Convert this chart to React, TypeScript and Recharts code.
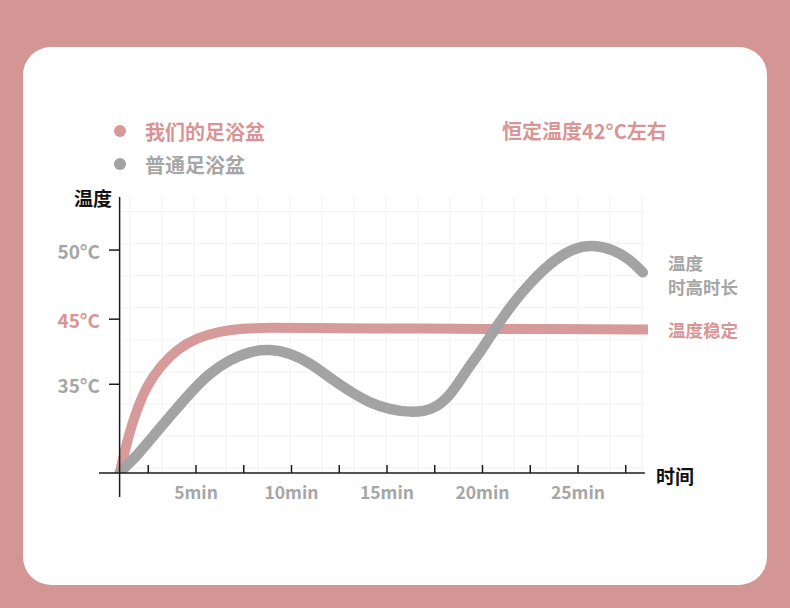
import React from 'react';
import { LineChart, Line, XAxis, YAxis, ReferenceLine } from 'recharts';

// ---- data (time in minutes, level = position on the illustrative temperature axis) ----
const ourTubTime = [1, 1.11, 1.46, 1.9, 2.42, 3.12, 3.99, 5.04, 6.26, 7.46, 8.7, 11, 14, 17, 20, 23, 26, 28.66];
const ourTubLevel = [0, 1.9, 8.3, 14.2, 19.5, 23.9, 27.7, 30.3, 31.8, 32.4, 32.6, 32.5, 32.4, 32.4, 32.3, 32.3, 32.2, 32.2];

const normalTubTime = [1, 1.19, 1.9, 2.76, 3.64, 4.69, 5.73, 6.78, 7.83, 8.88, 9.92, 10.97, 12.02, 13.06, 14.11, 15.16, 16.38, 17.42, 18.3, 19.18, 19.87, 20.74, 21.61, 22.49, 23.53, 24.75, 25.8, 26.85, 27.72, 28.39];
const normalTubLevel = [0, 0.9, 3.8, 8.3, 12.7, 18.0, 22.5, 25.4, 27.3, 27.8, 26.9, 24.7, 21.3, 18.3, 15.7, 14.2, 13.5, 14.2, 17.2, 23.2, 27.0, 32.9, 38.2, 42.6, 47.1, 50.5, 51.2, 50.1, 47.9, 45.0];

const xTicks = [2.5, 5, 7.5, 10, 12.5, 15, 17.5, 20, 22.5, 25, 27.5];
const xTickLabels: Record<number, string> = { 5: '5min', 10: '10min', 15: '15min', 20: '20min', 25: '25min' };

const yTicks = [50, 34.5, 19.9];
const yTickLabels = ['50°C', '45°C', '35°C'];

const gridTimes = [1.54, 3.22, 4.89, 6.57, 8.24, 9.92, 11.59, 13.27, 14.94, 16.62, 18.29, 19.97, 21.64, 23.32, 24.99, 26.67, 28.34];
const gridLevels = [58.65, 51.46, 44.27, 37.08, 29.89, 22.7, 15.51, 8.32, 1.13];

const legendNames = ['我们的足浴盆', '普通足浴盆'];

// ---- styles ----
const PINK = '#d69a9a';
const PINK_TEXT = '#d99595';
const GRAY = '#a3a3a3';
const GRAY_TEXT = '#a6a6a6';
const BG = '#d39695';
const AXIS = '#1c1c1c';
const FONT = "'Noto Sans CJK SC', 'Noto Sans', sans-serif";
const yTickColors = [GRAY_TEXT, PINK_TEXT, GRAY_TEXT];

const ourTub = ourTubTime.map((t, i) => ({ t, v: ourTubLevel[i] }));
const normalTub = normalTubTime.map((t, i) => ({ t, v: normalTubLevel[i] }));

const YTick = (props: any) => {
  const { x, y, payload } = props;
  const i = yTicks.indexOf(payload.value);
  return (
    <g>
      <line x1={x + 11} x2={x + 22} y1={y} y2={y} stroke={AXIS} strokeWidth={1.5} />
      <text x={x + 2} y={y} textAnchor="end" dominantBaseline="central" fill={yTickColors[i]} fontSize={19} fontWeight={700} fontFamily={FONT}>
        {yTickLabels[i]}
      </text>
    </g>
  );
};

const XTick = (props: any) => {
  const { x, y, payload } = props;
  const label = xTickLabels[payload.value];
  return (
    <g>
      <line x1={x} x2={x} y1={y - 8} y2={y} stroke={AXIS} strokeWidth={1.5} />
      {label && (
        <text x={x} y={y + 18} textAnchor="middle" dominantBaseline="central" fill={GRAY_TEXT} fontSize={17.5} fontWeight={700} fontFamily={FONT}>
          {label}
        </text>
      )}
    </g>
  );
};

export default function App() {
  return (
    <div style={{ position: 'absolute', left: 0, top: 0, width: 790, height: 608, background: BG, overflow: 'hidden' }}>
      <div style={{ position: 'absolute', left: 23, top: 47, width: 744, height: 538, background: '#fff', borderRadius: 28 }} />
      <div style={{ position: 'absolute', left: 0, top: 0 }}>
        <LineChart width={790} height={608} margin={{ top: 197, left: 97, right: 142, bottom: 134 }}>
          <XAxis
            type="number"
            dataKey="t"
            domain={[-0.131, 28.665]}
            ticks={xTicks}
            interval={0}
            allowDataOverflow
            height={1}
            tickSize={0}
            tickMargin={0}
            axisLine={false}
            tickLine={false}
            tick={<XTick />}
          />
          <YAxis
            type="number"
            dataKey="v"
            domain={[0, 61.9]}
            ticks={yTicks}
            interval={0}
            allowDataOverflow
            width={1}
            tickSize={0}
            tickMargin={0}
            axisLine={false}
            tickLine={false}
            tick={<YTick />}
          />
          {gridTimes.map((t) => (
            <ReferenceLine key={'gx' + t} segment={[{ x: t, y: 0 }, { x: t, y: 61.9 }]} stroke="#f4f4f4" strokeWidth={1.2} ifOverflow="visible" />
          ))}
          {gridLevels.map((l) => (
            <ReferenceLine key={'gy' + l} segment={[{ x: 1, y: l }, { x: 28.5, y: l }]} stroke="#f4f4f4" strokeWidth={1.2} ifOverflow="visible" />
          ))}
          <Line data={ourTub} dataKey="v" type="basis" stroke={PINK} strokeWidth={10} strokeLinecap="round" dot={false} activeDot={false} isAnimationActive={false} />
          <Line data={normalTub} dataKey="v" type="basis" stroke={GRAY} strokeWidth={10.5} strokeLinecap="round" dot={false} activeDot={false} isAnimationActive={false} />
          <ReferenceLine segment={[{ x: -0.08, y: 0 }, { x: 28.5, y: 0 }]} stroke={AXIS} strokeWidth={1.5} ifOverflow="visible" />
          <ReferenceLine segment={[{ x: 1, y: -5.4 }, { x: 1, y: 61.9 }]} stroke={AXIS} strokeWidth={1.5} ifOverflow="visible" />
        </LineChart>
      </div>
      <svg width={790} height={608} style={{ position: 'absolute', left: 0, top: 0, pointerEvents: 'none' }}>
        <g fontFamily={FONT} fontWeight={700}>
          <circle cx={120} cy={131} r={6} fill={PINK} />
          <text x={145} y={131} dominantBaseline="central" fontSize={20} fill={PINK_TEXT}>{legendNames[0]}</text>
          <circle cx={120} cy={164} r={6} fill={GRAY} />
          <text x={145} y={164} dominantBaseline="central" fontSize={20} fill={GRAY_TEXT}>{legendNames[1]}</text>
          <text x={502} y={130} dominantBaseline="central" fontSize={20} fill={PINK_TEXT}>恒定温度42°C左右</text>
          <text x={112} y={197} textAnchor="end" dominantBaseline="central" fontSize={19} fill="#111">温度</text>
          <text x={656} y={475} dominantBaseline="central" fontSize={19} fill="#111">时间</text>
          <text x={668} y={262} dominantBaseline="central" fontSize={17.5} fill={GRAY_TEXT}>温度</text>
          <text x={668} y={286} dominantBaseline="central" fontSize={17.5} fill={GRAY_TEXT}>时高时长</text>
          <text x={668} y={329} dominantBaseline="central" fontSize={17.5} fill={PINK_TEXT}>温度稳定</text>
        </g>
      </svg>
    </div>
  );
}
